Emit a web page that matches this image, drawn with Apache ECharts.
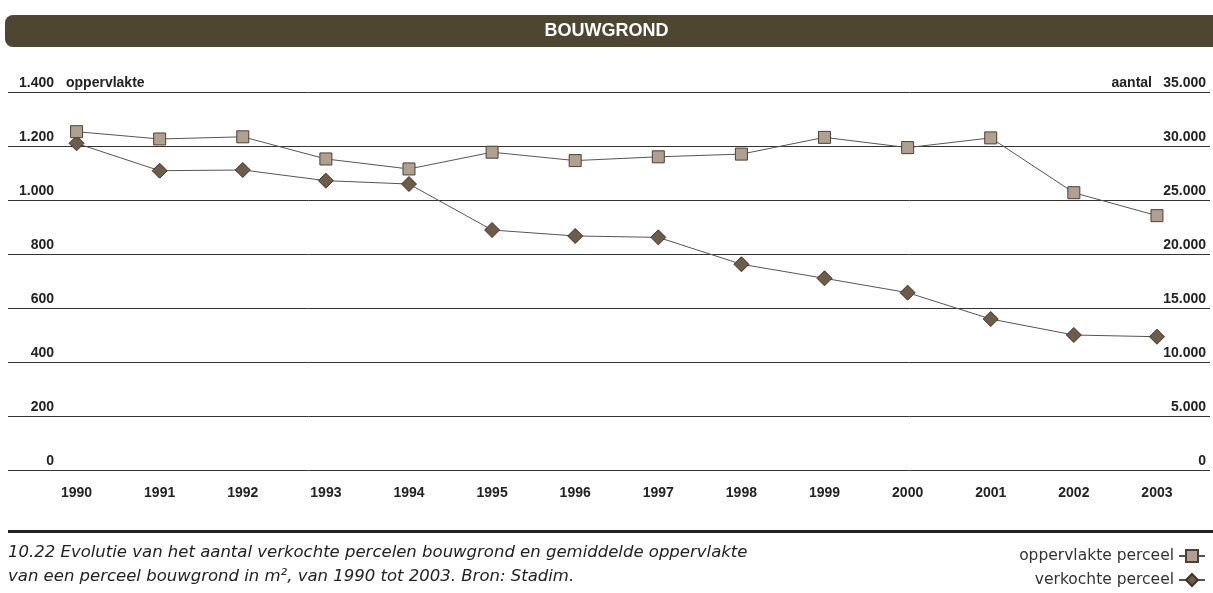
<!DOCTYPE html>
<html>
<head>
<meta charset="utf-8">
<script src="https://cdn.jsdelivr.net/npm/echarts@6/dist/echarts.min.js"></script>
<style>
  html, body { margin: 0; padding: 0; background: #fff; }
  #chart { width: 1213px; height: 593px; }
</style>
</head>
<body>
<div id="chart"></div>
<script>
(function(){
  /** Data */
  var years = ['1990', '1991', '1992', '1993', '1994', '1995', '1996',
    '1997', '1998', '1999', '2000', '2001', '2002', '2003'];
  // gemiddelde oppervlakte perceel (m2), linkse as
  var oppervlakte = [1253, 1226, 1234, 1152, 1115, 1177, 1146,
    1160, 1170, 1232, 1194, 1230, 1027, 942];
  // aantal verkochte percelen, rechtse as
  var verkocht = [30250, 27710, 27780, 26790, 26480, 22220, 21670,
    21540, 19050, 17750, 16420, 13980, 12500, 12340];
  var leftTicks = { min: 0, max: 1400, interval: 200 };
  var rightTicks = { min: 0, max: 35000, interval: 5000 };

  var bold = '"Liberation Sans", Arial, sans-serif';
  var plain = '"DejaVu Sans", sans-serif';

  function dots(v) {
    return String(v).replace(/\B(?=(\d{3})+(?!\d))/g, '.');
  }

  var top = 92, bottom = 593 - 470;

  var option = {
    animation: false,
    backgroundColor: '#fff',
    graphic: [
      {
        type: 'rect', z: -1,
        shape: { x: 5, y: 15, width: 1220, height: 32, r: 8 },
        style: { fill: '#4e4630' }
      },
      {
        type: 'rect',
        shape: { x: 8, y: 530, width: 1205, height: 3 },
        style: { fill: '#222' }
      }
    ],
    title: [
      {
        text: 'BOUWGROND',
        left: 'center',
        top: 22,
        padding: [0, 0, 0, 12],
        textStyle: { color: '#fff', fontFamily: bold, fontWeight: 'bold', fontSize: 18 }
      },
      {
        text: '10.22 Evolutie van het aantal verkochte percelen bouwgrond en gemiddelde oppervlakte\n' +
              'van een perceel bouwgrond in m², van 1990 tot 2003. Bron: Stadim.',
        left: 8,
        top: 541,
        padding: 0,
        textStyle: {
          color: '#222', fontFamily: plain, fontStyle: 'italic',
          fontWeight: 'normal', fontSize: 16.5, lineHeight: 23.5
        }
      }
    ],
    legend: {
      orient: 'vertical',
      right: 2,
      top: 543,
      align: 'right',
      itemGap: 8,
      itemWidth: 26,
      itemHeight: 15,
      textStyle: { color: '#333', fontFamily: plain, fontSize: 15.5 },
      data: ['oppervlakte perceel', 'verkochte perceel']
    },
    grid: [
      { left: 8, right: 0, top: top, bottom: bottom },
      { left: 35, right: 14.5, top: top, bottom: bottom }
    ],
    xAxis: [
      { gridIndex: 0, type: 'value', min: 0, max: 1, show: false },
      {
        gridIndex: 1, type: 'category', data: years, boundaryGap: true,
        axisLine: { show: false }, axisTick: { show: false },
        axisLabel: {
          margin: 16, color: '#222', fontFamily: bold,
          fontWeight: 'bold', fontSize: 14
        }
      }
    ],
    yAxis: [
      {
        gridIndex: 0, type: 'value', position: 'left',
        min: leftTicks.min, max: leftTicks.max, interval: leftTicks.interval,
        name: 'oppervlakte', nameLocation: 'end', nameGap: 0,
        nameMoveOverlap: false,
        nameTextStyle: {
          color: '#222', fontFamily: bold, fontWeight: 'bold', fontSize: 14,
          align: 'left', verticalAlign: 'bottom', lineHeight: 18,
          padding: [0, 0, 0, 58]
        },
        axisLine: { show: false }, axisTick: { show: false },
        splitLine: { show: true, lineStyle: { color: '#333', width: 1 } },
        axisLabel: {
          inside: true, margin: 46, align: 'right', verticalAlign: 'bottom',
          lineHeight: 18, color: '#222', fontFamily: bold,
          fontWeight: 'bold', fontSize: 14, formatter: dots
        }
      },
      {
        gridIndex: 0, type: 'value', position: 'right',
        min: rightTicks.min, max: rightTicks.max, interval: rightTicks.interval,
        name: 'aantal', nameLocation: 'end', nameGap: 0,
        nameMoveOverlap: false,
        nameTextStyle: {
          color: '#222', fontFamily: bold, fontWeight: 'bold', fontSize: 14,
          align: 'right', verticalAlign: 'bottom', lineHeight: 18,
          padding: [0, 58, 0, 0]
        },
        axisLine: { show: false }, axisTick: { show: false },
        splitLine: { show: false },
        axisLabel: {
          inside: true, margin: 4, align: 'right', verticalAlign: 'bottom',
          lineHeight: 18, color: '#222', fontFamily: bold,
          fontWeight: 'bold', fontSize: 14, formatter: dots
        }
      },
      {
        gridIndex: 1, type: 'value', show: false,
        min: leftTicks.min, max: leftTicks.max, interval: leftTicks.interval,
        splitLine: { show: false }
      },
      {
        gridIndex: 1, type: 'value', show: false,
        min: rightTicks.min, max: rightTicks.max, interval: rightTicks.interval,
        splitLine: { show: false }
      }
    ],
    series: [
      {
        name: 'oppervlakte perceel',
        type: 'line',
        xAxisIndex: 1, yAxisIndex: 2,
        data: oppervlakte,
        symbol: 'rect', symbolSize: 12,
        lineStyle: { color: '#555', width: 1 },
        itemStyle: { color: '#b0a08f', borderColor: '#4a4035', borderWidth: 1 },
        z: 3
      },
      {
        name: 'verkochte perceel',
        type: 'line',
        xAxisIndex: 1, yAxisIndex: 3,
        data: verkocht,
        symbol: 'diamond', symbolSize: 15,
        lineStyle: { color: '#555', width: 1 },
        itemStyle: { color: '#6d5c47', borderColor: '#3e3428', borderWidth: 1 },
        z: 2
      }
    ]
  };

  echarts.init(document.getElementById('chart')).setOption(option);
})();
</script>
</body>
</html>
